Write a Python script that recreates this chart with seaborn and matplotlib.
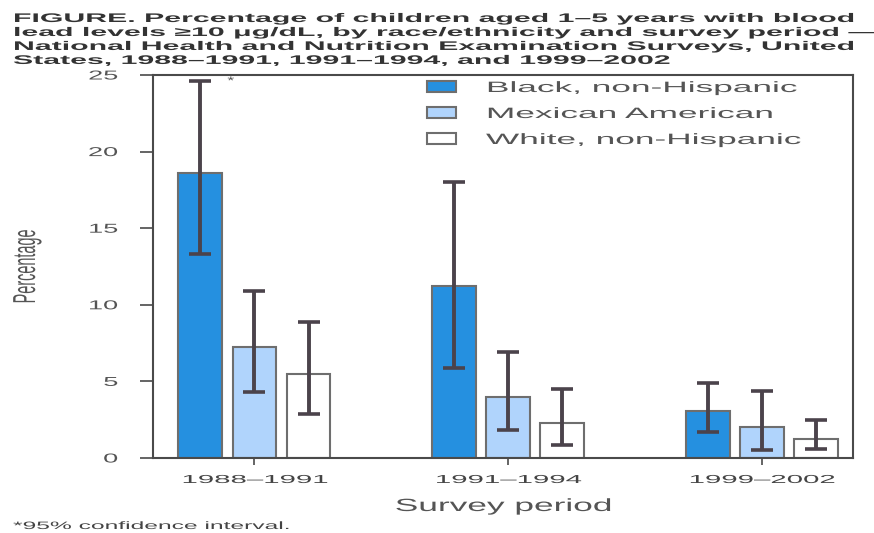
import pandas as pd
import matplotlib
matplotlib.use("Agg")
import matplotlib.pyplot as plt
import seaborn as sns
from matplotlib.patheffects import AbstractPathEffect
from matplotlib.transforms import Affine2D

periods = ["1988\u20131991", "1991\u20131994", "1999\u20132002"]
groups = ["Black, non-Hispanic", "Mexican American", "White, non-Hispanic"]

black = [18.6, 11.2, 3.1]
mexican = [7.25, 4.0, 2.0]
white = [5.5, 2.3, 1.25]

black_ci = [(13.3, 24.6), (5.9, 18.0), (1.7, 4.9)]
mexican_ci = [(4.3, 10.9), (1.8, 6.9), (0.5, 4.4)]
white_ci = [(2.9, 8.9), (0.85, 4.5), (0.6, 2.5)]

colors = ["#2590e0", "#b0d4fc", "#ffffff"]

title = ("FIGURE. Percentage of children aged 1\u20135 years with blood\n"
         "lead levels \u226510 \u03bcg/dL, by race/ethnicity and survey period \u2014\n"
         "National Health and Nutrition Examination Surveys, United\n"
         "States, 1988\u20131991, 1991\u20131994, and 1999\u20132002")
footnote = "*95% confidence interval."


class Stretch(AbstractPathEffect):
    """Widen the glyphs of a text (the original figure has very wide lettering)."""

    def __init__(self, sx=1.0, sy=1.0, anchor="left"):
        super().__init__()
        self.sx = sx
        self.sy = sy
        self.anchor = anchor

    def draw_path(self, renderer, gc, tpath, affine, rgbFace=None):
        xs = tpath.vertices[:, 0]
        if self.anchor == "right":
            cx = xs.max()
        elif self.anchor == "center":
            cx = (xs.min() + xs.max()) / 2
        else:
            cx = 0.0
        t = Affine2D().translate(-cx, 0).scale(self.sx, self.sy).translate(cx, 0) + affine
        renderer.draw_path(gc, tpath, t, rgbFace)


def build_frame():
    rows = []
    for g, vals in zip(groups, [black, mexican, white]):
        for p, v in zip(periods, vals):
            rows.append({"Period": p, "Group": g, "Percentage": v})
    return pd.DataFrame(rows)


def main():
    sns.set_style("white")
    plt.rcParams["font.family"] = ["Liberation Sans", "DejaVu Sans"]
    df = build_frame()

    W, H = 874, 533
    fig = plt.figure(figsize=(W / 100, H / 100), dpi=100)
    ax = fig.add_axes([153 / W, 1 - 458 / H, 700 / W, 383 / H])

    sns.barplot(data=df, x="Period", y="Percentage", hue="Group",
                palette=colors, saturation=1, width=0.64, gap=0.19,
                errorbar=None, edgecolor="#6e6e6e", linewidth=1.5, ax=ax)

    # confidence intervals
    for container, cis in zip(ax.containers, [black_ci, mexican_ci, white_ci]):
        for bar, (lo, hi) in zip(container, cis):
            xc = bar.get_x() + bar.get_width() / 2
            ax.errorbar([xc], [(lo + hi) / 2], yerr=[[(hi - lo) / 2]],
                        fmt="none", ecolor="#4b434b", elinewidth=2.8,
                        capsize=8, capthick=2.6, zorder=5)

    first = ax.containers[0][0]
    ax.text(first.get_x() + first.get_width() + 0.02, black_ci[0][1], "*",
            fontsize=8, color="#555555", ha="left", va="center",
            path_effects=[Stretch(1.6)])

    ax.set_ylim(0, 25)
    ax.set_xlim(-0.40, 2.36)
    ax.set_yticks([0, 5, 10, 15, 20, 25])
    ax.tick_params(axis="y", length=9.4, width=1.2, color="#4a4a4a", pad=16,
                   labelsize=9.3, labelcolor="#555555", left=True)
    ax.tick_params(axis="x", length=5, width=1.2, color="#4a4a4a", pad=6.5,
                   labelsize=8.3, labelcolor="#444444", bottom=True)
    for s in ax.spines.values():
        s.set_color("#4a4a4a")
        s.set_linewidth(1.5)
    for lbl in ax.get_yticklabels():
        lbl.set_path_effects([Stretch(2.1, anchor="right")])
    for lbl in ax.get_xticklabels():
        lbl.set_path_effects([Stretch(2.55, anchor="center")])

    ax.set_xlabel("Survey period", fontsize=12.7, color="#555555",
                  va="baseline", path_effects=[Stretch(2.0, anchor="center")])
    ax.xaxis.set_label_coords(0.5, (458 - 511) / 383)
    ax.set_ylabel("Percentage", fontsize=10.4, color="#555555",
                  va="baseline", path_effects=[Stretch(1.0, 2.2)])
    ax.yaxis.set_label_coords((35 - 153) / 700, 0.5)

    leg = ax.legend(loc="upper left", frameon=False, fontsize=10.8,
                    bbox_to_anchor=(427 / W, 1 - 81 / H),
                    bbox_transform=fig.transFigure, borderpad=0,
                    borderaxespad=0, handlelength=1.93, handleheight=0.73,
                    handletextpad=2.0, labelspacing=0.8)
    for t in leg.get_texts():
        t.set_color("#555555")
        t.set_path_effects([Stretch(2.35)])

    fig.text(13 / W, 1 - 13 / H, title, fontsize=9, fontweight="bold",
             color="#333333", ha="left", va="top", linespacing=1.22,
             path_effects=[Stretch(2.42)])
    fig.text(13 / W, 1 - 529 / H, footnote, fontsize=7.7, color="#444444",
             ha="left", va="baseline", path_effects=[Stretch(2.3)])

    fig.savefig("out.png", dpi=100)


if __name__ == "__main__":
    main()
